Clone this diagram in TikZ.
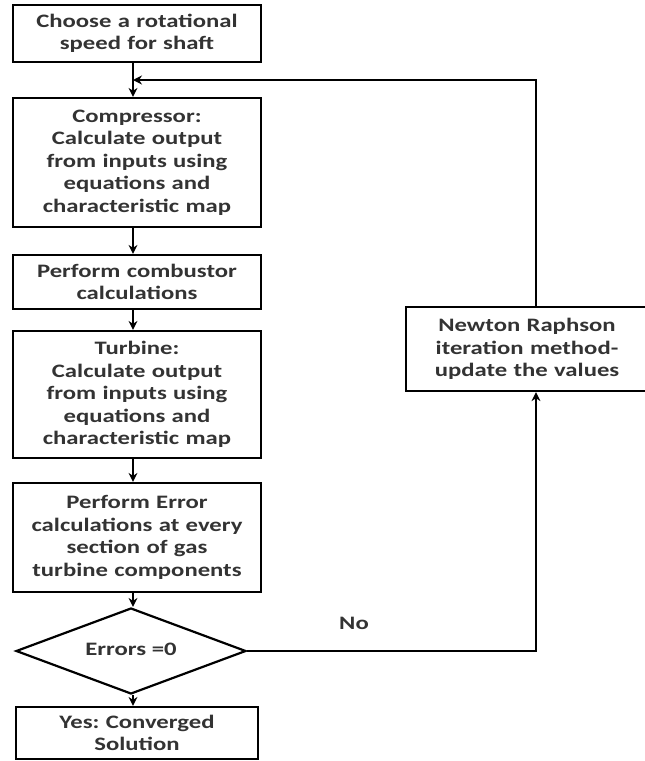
\documentclass[tikz,border=0pt]{standalone}
\usepackage{fontspec}
\setmainfont[FakeStretch=1.3]{Carlito}
\usetikzlibrary{arrows.meta,shapes.geometric}
\begin{document}
\frenchspacing
\begin{tikzpicture}[x=1pt,y=-1pt,
  every node/.style={font=\bfseries\fontsize{19}{22.5}\selectfont, text=black!80},
  box/.style={draw=black, line width=2.2pt, rectangle, minimum width=248pt, inner sep=0pt, align=center, text width=244pt},
  dec/.style={draw=black, line width=2.2pt, diamond, inner sep=0pt, minimum width=230pt, minimum height=86pt, aspect=2.67},
  conn/.style={draw=black, line width=2.2pt},
  arr/.style={conn, -{Stealth[length=9pt,width=9pt]}}]
\clip (0,0) rectangle (645,761);
\fill[white] (0,0) rectangle (645,761);
\node[box, minimum height=57pt] (b1) at (137,33.5) {Choose a rotational\\speed for shaft};
\node[box, minimum height=129pt] (b2) at (137,162.5) {Compressor:\\Calculate output\\from inputs using\\equations and\\characteristic map};
\node[box, minimum height=54pt] (b3) at (137,282) {Perform combustor\\calculations};
\node[box, minimum height=127pt] (b4) at (137,394.5) {Turbine:\\Calculate output\\from inputs using\\equations and\\characteristic map};
\node[box, minimum height=109pt] (b5) at (137,537.5) {Perform Error\\calculations at every\\section of gas\\turbine components};
\node[dec] (d) at (131,651) {\raisebox{4pt}{Errors =0}};
\node[box, minimum width=242pt, text width=238pt, minimum height=52pt] (b6) at (137,733) {Yes: Converged\\Solution};
\node[box, minimum width=242pt, text width=238pt, minimum height=84pt] (nr) at (527,349) {Newton Raphson\\iteration method-\\update the values};
\node (no) at (354,623) {No};
\coordinate (ax) at (133,0);
\coordinate (lx) at (536,0);
\coordinate (j) at (133,80);
\coordinate (c1) at (536,651);
\coordinate (c2) at (536,80);
\draw[arr] (b1.south -| ax) -- (b2.north -| ax);
\draw[arr] (b2.south -| ax) -- (b3.north -| ax);
\draw[arr] (b3.south -| ax) -- (b4.north -| ax);
\draw[arr] (b4.south -| ax) -- (b5.north -| ax);
\draw[arr] (b5.south -| ax) -- (d.north -| ax);
\draw[arr] (d.south -| ax) -- (b6.north -| ax);
\draw[arr] (d.east) -- (c1) -- (nr.south -| lx);
\draw[arr] (nr.north -| lx) -- (c2) -- (j);
\end{tikzpicture}
\end{document}
